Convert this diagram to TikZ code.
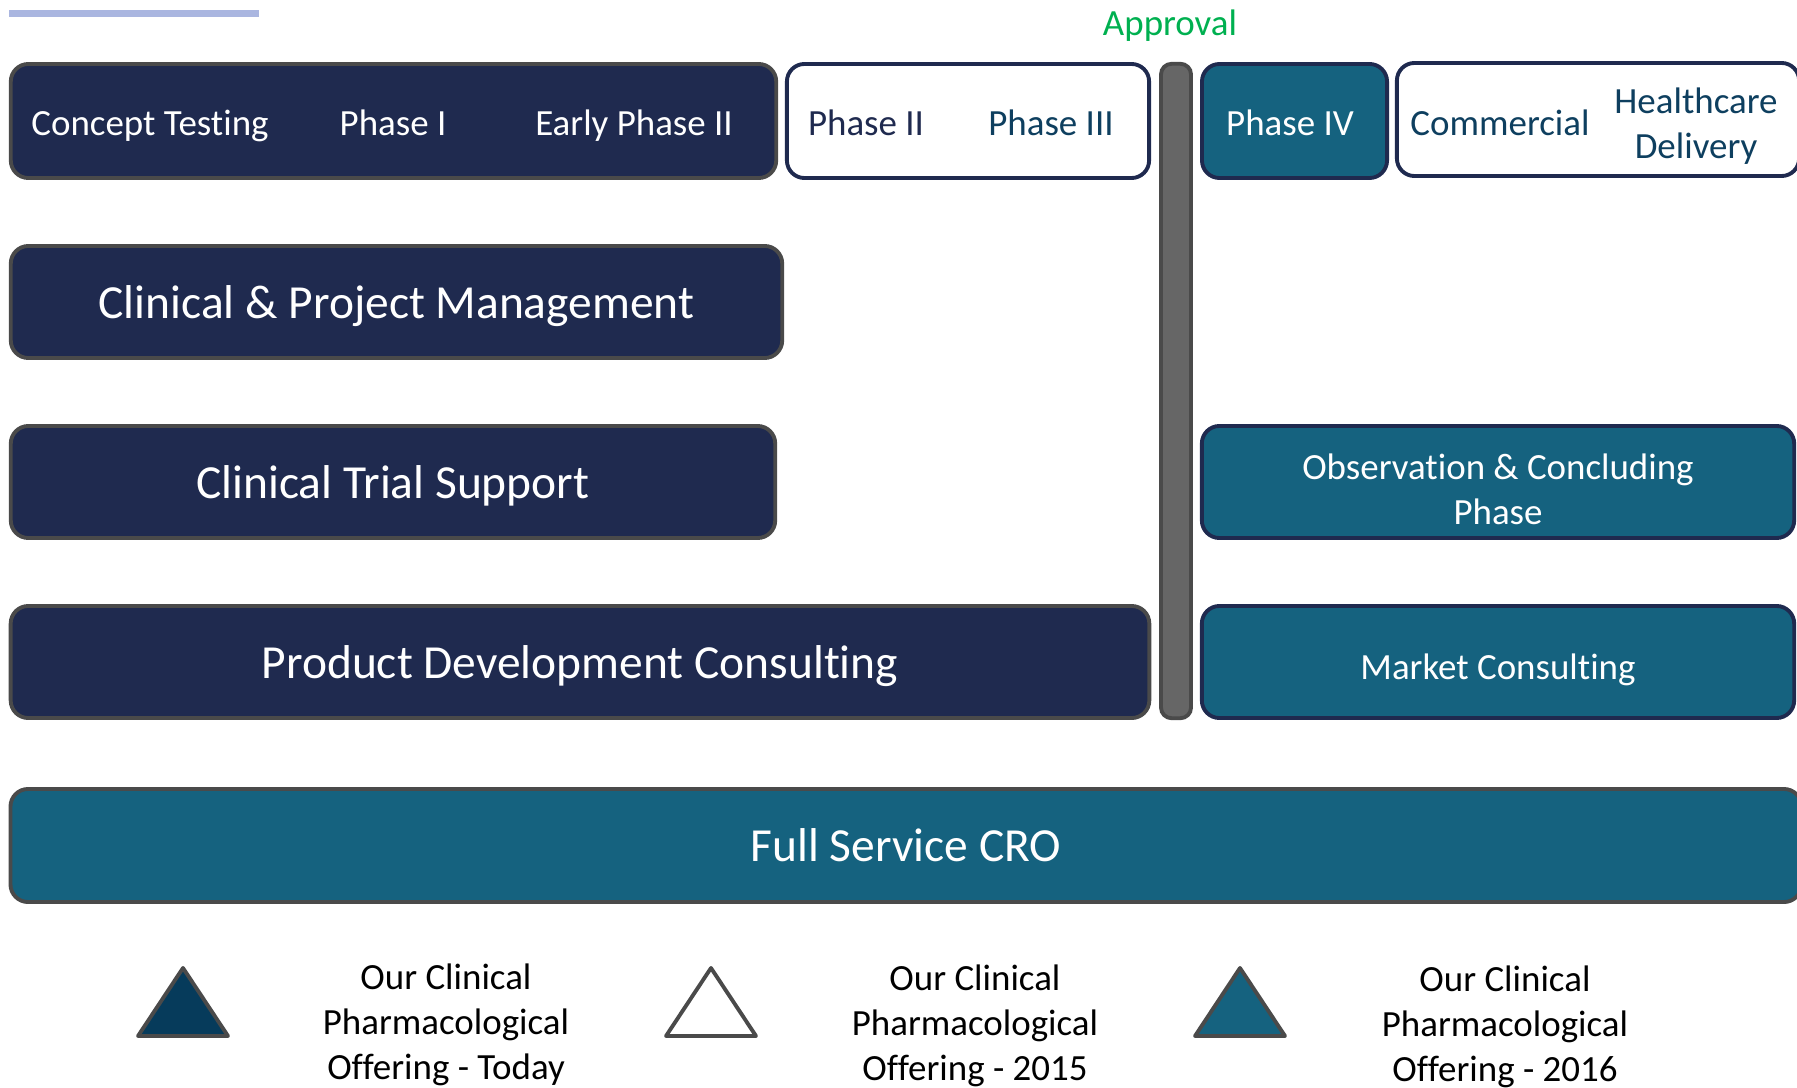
\documentclass[tikz,border=0pt]{standalone}
\usepackage{fontspec}
\setmainfont[Ligatures=NoCommon]{Carlito}
\usepackage{tikz}
\usetikzlibrary{positioning}
\usepackage{xcolor}
\definecolor{navyfill}{HTML}{1F2A4F}
\definecolor{tealfill}{HTML}{15627F}
\definecolor{deepteal}{HTML}{063B5B}
\definecolor{tealtext}{HTML}{0E3F5F}
\definecolor{edgegray}{HTML}{4A4A4A}
\definecolor{bargray}{HTML}{666666}
\definecolor{okgreen}{HTML}{00B050}
\definecolor{barlav}{HTML}{AAB6E0}
\newcommand{\rowfont}{\fontsize{10.5}{12.8}\selectfont}
\newcommand{\headfont}{\fontsize{13.5}{16.5}\selectfont}

\begin{document}
\begin{tikzpicture}[
    x=0.01cm, y=-0.01cm,
    box/.style={rectangle, rounded corners=5pt, line width=1.1pt, minimum height=1.12cm, inner sep=0pt, align=center},
    darkbox/.style={box, fill=navyfill, draw=edgegray, text=white, font=\headfont, text depth=0pt},
    tealbox/.style={box, fill=tealfill, draw=navyfill, text=white, font=\rowfont},
    openbox/.style={box, fill=white, draw=navyfill},
    phase/.style={font=\rowfont, anchor=base, align=center},
    legend/.style={line width=1.1pt, draw=edgegray, line join=round},
    legendtext/.style={font=\rowfont, align=center}
]
    \useasboundingbox (0,0) rectangle (1797,1088);
    \clip (0,0) rectangle (1797,1088);

    % title bar
    \fill[barlav] (9,10) rectangle (259,17);

    % phases
    \node[darkbox, minimum width=7.65cm, minimum height=1.14cm] (early) at (393.5,121) {};
    \node[phase, text=white] (concept) at (150,136) {Concept Testing};
    \node[phase, text=white] (phaseone) at (393,136) {Phase I};
    \node[phase, text=white] (earlytwo) at (634,136) {Early Phase II};

    \node[openbox, minimum width=3.62cm, minimum height=1.14cm] (late) at (968,121) {};
    \node[phase, text=navyfill] (phasetwo) at (866,136) {Phase II};
    \node[phase, text=tealtext] (phasethree) at (1051,136) {Phase III};

    \node[tealbox, minimum width=1.85cm, minimum height=1.14cm] (phasefour) at (1294.5,121) {};
    \node[phase, text=white] (phasefourtext) at (1290,136) {Phase IV};

    \node[openbox, minimum width=4.02cm, minimum height=1.13cm] (market) at (1598,119.5) {};
    \node[phase, text=tealtext] (commercial) at (1500,136) {Commercial};
    \node[font=\rowfont, align=center, text=tealtext] (health) at (1696,126.5) {Healthcare\\Delivery};

    % approval
    \node[rectangle, rounded corners=3pt, fill=bargray, draw=edgegray, line width=1.1pt, minimum width=0.30cm, minimum height=6.54cm] (approvalbar) at (1176,391) {};
    \node[phase, text=okgreen] (approval) at (1170,36) {Approval};

    % services
    \node[darkbox, minimum width=7.71cm] (cpm) at (396.5,302) {Clinical \& Project Management};
    \node[darkbox, minimum width=7.64cm] (cts) at (393,482) {Clinical Trial Support};
    \node[darkbox, minimum width=11.38cm] (pdc) at (580,662) {Product Development Consulting};
    \node[tealbox, minimum width=5.92cm] (obs) at (1498,482) {};
    \node[font=\rowfont, align=center, text=white] (obstext) at (1498,489) {Observation \& Concluding\\Phase};
    \node[tealbox, minimum width=5.92cm, text depth=0pt, text height=1em] (mkc) at (1498,662) {Market Consulting};
    \node[box, fill=tealfill, draw=edgegray, text=white, font=\headfont, minimum width=17.90cm, minimum height=1.13cm] (cro) at (906,845.5) {Full Service CRO};

    % legend
    \draw[legend, fill=deepteal] (183,968) -- (228,1036) -- (138,1036) -- cycle;
    \draw[legend, fill=white] (711,968) -- (756,1036) -- (666,1036) -- cycle;
    \draw[legend, fill=tealfill] (1240,968) -- (1285,1036) -- (1195,1036) -- cycle;
    \node[legendtext] (today) at (446,1025) {Our Clinical\\Pharmacological\\Offering - Today};
    \node[legendtext] (fifteen) at (975,1026) {Our Clinical\\Pharmacological\\Offering - 2015};
    \node[legendtext] (sixteen) at (1505,1027) {Our Clinical\\Pharmacological\\Offering - 2016};
\end{tikzpicture}
\end{document}
